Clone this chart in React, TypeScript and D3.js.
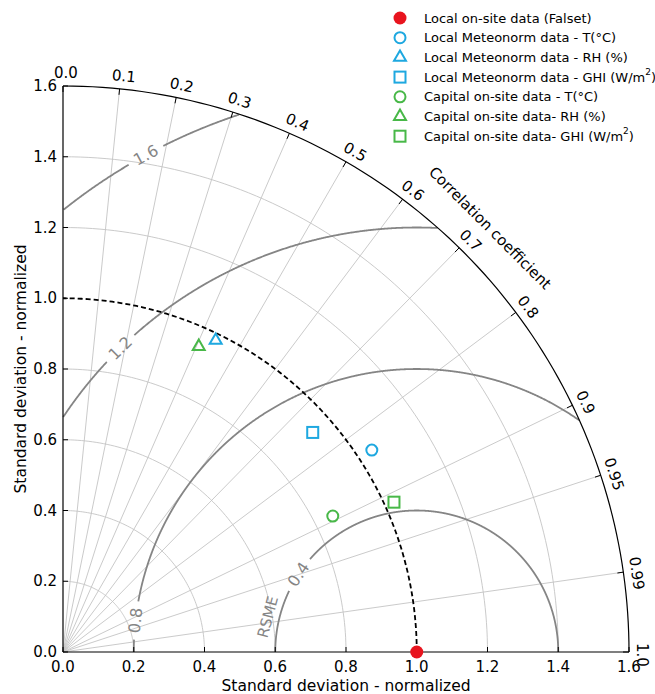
import React from 'react'
import * as d3 from 'd3'

// std-dev axis ticks and grid arcs
const stdTicks = [0.0, 0.2, 0.4, 0.6, 0.8, 1.0, 1.2, 1.4, 1.6]
const stdGrid = [0.2, 0.4, 0.6, 0.8, 1.2, 1.4]
const stdRef = 1.0
const stdMax = 1.6

// correlation ticks on the outer arc
const corrTicks = [0.0, 0.1, 0.2, 0.3, 0.4, 0.5, 0.6, 0.7, 0.8, 0.9, 0.95, 0.99, 1.0]
const corrGrid = [0.1, 0.2, 0.3, 0.4, 0.5, 0.6, 0.7, 0.8, 0.9, 0.95, 0.99]

// centred RMS difference contours
const rmsLevels = [0.4, 0.8, 1.2, 1.6]

// series
const seriesNames = [
  'Local on-site data (Falset)',
  'Local Meteonorm data - T(°C)',
  'Local Meteonorm data - RH (%)',
  'Local Meteonorm data - GHI (W/m2)',
  'Capital on-site data - T(°C)',
  'Capital on-site data- RH (%)',
  'Capital on-site data- GHI (W/m2)',
]
const seriesStd = [1.0, 1.043, 0.981, 0.94, 0.854, 0.945, 1.027]
const seriesCorr = [1.0, 0.837, 0.44, 0.751, 0.893, 0.406, 0.911]
const seriesColors = ['#e8141e', '#1ea8e0', '#1ea8e0', '#1ea8e0', '#48b848', '#48b848', '#48b848']
const seriesShapes = ['dot', 'circle', 'triangle', 'square', 'circle', 'triangle', 'square']

const W = 655, H = 694
const FONT = 'DejaVu Sans'
const x = d3.scaleLinear().domain([0, stdMax]).range([63, 629])
const y = d3.scaleLinear().domain([0, stdMax]).range([652, 86])
const px = (v) => x(v) - x(0) // std units -> pixels

const line = d3.line().x(d => x(d[0])).y(d => y(d[1])).defined(d => d[2])

function arcPoints(r) {
  return d3.range(0, 91).map(a => {
    const t = a * Math.PI / 180
    return [r * Math.cos(t), r * Math.sin(t), true]
  })
}

// label angle (deg, around the reference point) for each rms contour
const rmsLabelAngle = { 0.4: 146.7, 0.8: 173.6, 1.2: 134.3, 1.6: 118.6 }

function rmsPoints(R) {
  const phi0 = rmsLabelAngle[R] * Math.PI / 180
  const gap = 19 / px(R)
  return d3.range(0, 1801).map(i => {
    const phi = i * Math.PI / 1800
    const xv = stdRef + R * Math.cos(phi)
    const yv = R * Math.sin(phi)
    const inside = xv >= 0 && xv * xv + yv * yv <= stdMax * stdMax + 1e-9
    return [xv, yv, inside && Math.abs(phi - phi0) > gap]
  })
}

function Marker({ shape, cx, cy, color }) {
  if (shape === 'dot') return <circle cx={cx} cy={cy} r={6.5} fill={color} />
  if (shape === 'circle') return <circle cx={cx} cy={cy} r={5.5} fill="none" stroke={color} strokeWidth={2} />
  if (shape === 'square') return <rect x={cx - 5.5} y={cy - 5.5} width={11} height={11} fill="none" stroke={color} strokeWidth={2} />
  const tri = d3.symbol().type(d3.symbolTriangle).size(62)()
  return <path d={tri} transform={`translate(${cx},${cy})`} fill="none" stroke={color} strokeWidth={2} />
}

function Sup({ label }) {
  // turn "W/m2" into W/m with superscript 2
  const i = label.indexOf('m2)')
  if (i < 0) return <>{label}</>
  return (
    <>
      {label.slice(0, i + 1)}
      <tspan baselineShift="super" fontSize={9}>2</tspan>
      {label.slice(i + 2)}
    </>
  )
}

export default function App() {
  const R = px(stdMax)
  return (
    <svg width={W} height={H} style={{ position: 'fixed', left: 0, top: 0, background: '#fff' }} fontFamily={FONT}>
      {/* correlation grid lines */}
      {corrGrid.map(c => {
        const s = Math.sqrt(1 - c * c)
        return <line key={c} x1={x(0)} y1={y(0)} x2={x(stdMax * c)} y2={y(stdMax * s)} stroke="#c4c4c4" strokeWidth={0.9} />
      })}
      {/* std arcs */}
      {stdGrid.map(r => (
        <path key={r} d={line(arcPoints(r))} fill="none" stroke="#c4c4c4" strokeWidth={0.9} />
      ))}
      {/* rms contours */}
      {rmsLevels.map(r => (
        <path key={r} d={line(rmsPoints(r))} fill="none" stroke="#858585" strokeWidth={1.8} />
      ))}
      {rmsLevels.map(r => {
        const phi = rmsLabelAngle[r] * Math.PI / 180
        const lx = x(stdRef + r * Math.cos(phi)), ly = y(r * Math.sin(phi))
        return (
          <text key={r} x={lx} y={ly} transform={`rotate(${-(rmsLabelAngle[r] - 90)},${lx},${ly})`}
            textAnchor="middle" dominantBaseline="central" fontSize={16} fill="#858585">{r.toFixed(1)}</text>
        )
      })}
      <text x={268} y={617} transform="rotate(-75,268,617)" textAnchor="middle" dominantBaseline="central" fontSize={15} fill="#858585">RSME</text>
      {/* reference arc */}
      <path d={line(arcPoints(stdRef))} fill="none" stroke="#000" strokeWidth={1.8} strokeDasharray="5,3" />
      {/* frame */}
      <path d={line(arcPoints(stdMax))} fill="none" stroke="#000" strokeWidth={1.2} />
      <line x1={x(0)} y1={y(0)} x2={x(0)} y2={y(stdMax)} stroke="#000" strokeWidth={1.2} />
      <line x1={x(0)} y1={y(0)} x2={x(stdMax)} y2={y(0)} stroke="#000" strokeWidth={1.2} />
      {/* std ticks */}
      {stdTicks.map(t => (
        <g key={t}>
          <line x1={x(0)} x2={x(0) + 5} y1={y(t)} y2={y(t)} stroke="#000" />
          <text x={x(0) - 6} y={y(t)} textAnchor="end" dominantBaseline="central" fontSize={15}>{t.toFixed(1)}</text>
          <line x1={x(t)} x2={x(t)} y1={y(0)} y2={y(0) - 5} stroke="#000" />
          <text x={x(t)} y={y(0) + 15} textAnchor="middle" dominantBaseline="central" fontSize={15}>{t.toFixed(1)}</text>
        </g>
      ))}
      {/* correlation ticks */}
      {corrTicks.map(c => {
        const s = Math.sqrt(1 - c * c)
        const deg = Math.acos(c) * 180 / Math.PI
        const lx = x(0) + (R + 13) * c + 3 * s, ly = y(0) - (R + 13) * s + 3 * c
        return (
          <g key={c}>
            <line x1={x(0) + R * c} y1={y(0) - R * s} x2={x(0) + (R - 6) * c} y2={y(0) - (R - 6) * s} stroke="#000" />
            <text x={lx} y={ly} transform={`rotate(${90 - deg},${lx},${ly})`} textAnchor="middle" dominantBaseline="central" fontSize={15}>
              {c === 0.95 || c === 0.99 ? String(c) : c.toFixed(1)}
            </text>
          </g>
        )
      })}
      <text x={490} y={228} transform="rotate(45,490,228)" textAnchor="middle" dominantBaseline="central" fontSize={15}>Correlation coefficient</text>
      {/* axis labels */}
      <text x={346} y={686} textAnchor="middle" dominantBaseline="central" fontSize={15.5}>Standard deviation - normalized</text>
      <text x={21} y={369} transform="rotate(-90,21,369)" textAnchor="middle" dominantBaseline="central" fontSize={15.5}>Standard deviation - normalized</text>
      {/* points */}
      {seriesNames.map((n, i) => {
        const c = seriesCorr[i], s = seriesStd[i]
        return <Marker key={n} shape={seriesShapes[i]} cx={x(s * c)} cy={y(s * Math.sqrt(1 - c * c))} color={seriesColors[i]} />
      })}
      {/* legend */}
      {seriesNames.map((n, i) => (
        <g key={n} transform={`translate(400,${18 + i * 19.7})`}>
          <Marker shape={seriesShapes[i]} cx={0} cy={0} color={seriesColors[i]} />
          <text x={24} y={0} dominantBaseline="central" fontSize={13}><Sup label={n} /></text>
        </g>
      ))}
    </svg>
  )
}
